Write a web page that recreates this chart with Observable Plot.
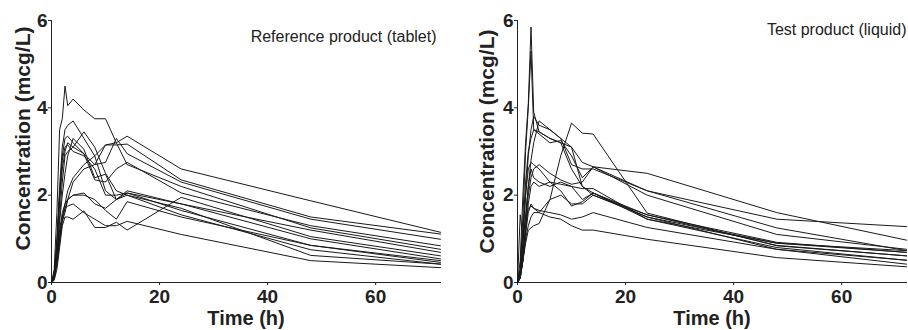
<!DOCTYPE html>
<html>
<head>
<meta charset="utf-8">
<script src="https://cdn.jsdelivr.net/npm/d3@7"></script>
<script src="https://cdn.jsdelivr.net/npm/@observablehq/plot@0.6"></script>
<style>
  html, body { margin: 0; padding: 0; background: #fff; }
  #wrap { display: flex; width: 908px; height: 330px; }
  #wrap svg { display: block; }
</style>
</head>
<body>
<div id="wrap"></div>
<script>
// Sampling times (h)
const times = [0, 0.5, 1, 1.5, 2, 2.5, 3, 4, 6, 8, 10, 12, 14, 24, 48, 72];

// Reference product (tablet) – concentration (mcg/L) per subject
const refSubjects = [
  [0, 0.3, 1.6, 3.5, 3.75, 4.5, 4.05, 4.2, 3.95, 3.75, 3.75, 3.2, 2.7, 2.2, 1.25, 0.76],
  [0, 0.2, 1.0, 2.2, 3.1, 3.5, 3.6, 3.7, 3.3, 2.9, 2.1, 1.9, 2.05, 1.65, 0.85, 0.5],
  [0, 0.1, 0.6, 1.5, 2.3, 2.9, 3.0, 3.1, 3.45, 3.1, 2.5, 2.1, 2.0, 1.55, 0.75, 0.42],
  [0, 0.1, 0.4, 0.9, 1.4, 1.6, 1.9, 2.3, 2.6, 2.7, 2.75, 3.3, 2.95, 2.3, 1.45, 0.99],
  [0, 0.1, 0.5, 1.0, 1.5, 1.8, 2.1, 2.4, 2.7, 2.9, 3.15, 3.2, 3.35, 2.6, 1.87, 1.15],
  [0, 0.2, 0.8, 1.8, 2.6, 3.0, 3.2, 3.1, 2.95, 2.7, 3.15, 3.15, 3.17, 2.35, 1.5, 1.11],
  [0, 0.1, 0.6, 1.4, 2.0, 2.5, 2.9, 3.3, 3.05, 2.4, 2.48, 1.9, 2.1, 1.8, 1.2, 0.69],
  [0, 0.05, 0.3, 0.8, 1.3, 1.5, 1.5, 1.45, 1.64, 1.26, 1.26, 1.38, 1.2, 1.95, 1.05, 0.61],
  [0, 0.1, 0.5, 1.1, 1.5, 1.7, 1.75, 1.8, 1.6, 1.45, 1.3, 1.3, 1.4, 1.1, 0.5, 0.34],
  [0, 0.1, 0.6, 1.2, 1.6, 1.8, 1.9, 2.0, 2.0, 1.9, 1.65, 1.45, 1.85, 1.5, 0.85, 0.46],
  [0, 0.2, 0.9, 2.0, 2.8, 3.1, 3.15, 3.0, 2.9, 2.6, 2.0, 2.0, 2.05, 1.8, 1.0, 0.54],
  [0, 0.1, 0.5, 1.0, 1.4, 1.7, 1.9, 2.0, 2.05, 1.8, 1.7, 1.9, 2.0, 1.7, 0.62, 0.42],
  [0, 0.15, 0.9, 2.0, 2.9, 3.3, 3.35, 3.2, 2.95, 2.35, 2.3, 2.6, 2.75, 2.05, 1.3, 0.84]
];

// Test product (liquid) – concentration (mcg/L) per subject
const testSubjects = [
  [0, 0.5, 2.0, 3.2, 4.1, 5.85, 3.9, 3.45, 3.3, 3.2, 2.6, 2.2, 2.05, 1.5, 0.9, 0.69],
  [0, 0.3, 1.5, 3.0, 4.0, 5.3, 3.5, 3.4, 3.2, 3.25, 2.9, 2.4, 2.65, 2.5, 1.6, 0.97],
  [0, 0.2, 0.9, 1.5, 2.2, 2.8, 3.2, 3.7, 3.5, 3.3, 3.1, 2.75, 2.65, 2.1, 1.45, 1.28],
  [0, 0.2, 0.5, 0.9, 1.2, 1.25, 1.3, 1.35, 1.9, 2.9, 3.65, 3.42, 3.4, 1.59, 0.84, 0.61],
  [0, 0.2, 1.0, 2.0, 2.9, 3.5, 3.8, 3.6, 3.5, 3.3, 2.7, 2.6, 2.6, 2.1, 1.25, 0.73],
  [0, 0.1, 0.6, 1.3, 2.0, 2.4, 2.6, 2.7, 2.5, 2.35, 2.25, 2.3, 2.65, 2.0, 1.1, 0.76],
  [0, 1.55, 1.0, 1.5, 2.2, 2.6, 2.4, 2.3, 2.2, 2.3, 2.2, 1.9, 2.05, 1.55, 0.92, 0.69],
  [0, 0.1, 0.5, 1.2, 1.8, 2.2, 2.3, 2.2, 2.3, 2.25, 2.2, 2.15, 2.15, 1.45, 0.9, 0.73],
  [0, 0.1, 0.5, 1.1, 1.6, 1.8, 1.7, 1.6, 1.9, 2.0, 1.8, 1.8, 2.0, 1.5, 0.76, 0.51],
  [0, 0.2, 0.7, 1.3, 1.7, 1.75, 1.7, 1.65, 1.6, 1.55, 1.45, 1.5, 1.6, 1.26, 0.76, 0.42],
  [0, 0.1, 0.5, 1.0, 1.3, 1.5, 1.6, 1.6, 1.5, 1.45, 1.3, 1.2, 1.2, 0.99, 0.57, 0.36],
  [0, 0.3, 1.2, 2.3, 3.0, 3.3, 3.5, 3.45, 3.3, 3.2, 3.1, 2.2, 2.0, 1.55, 0.85, 0.61],
  [0, 0.2, 1.0, 2.0, 2.6, 2.75, 2.7, 2.6, 2.3, 2.1, 1.75, 1.85, 2.05, 1.45, 0.8, 0.51]
];

// Text
const panelTitles = ["Reference product (tablet)", "Test product (liquid)"];
const xTicks = [0, 20, 40, 60];
const yTicks = [0, 2, 4, 6];
const xLabel = "Time (h)";
const yLabel = "Concentration (mcg/L)";

function toRows(subjects) {
  const rows = [];
  subjects.forEach((vals, id) => {
    vals.forEach((c, i) => rows.push({id, t: times[i], c}));
  });
  return rows;
}

function panel(subjects, title, opts) {
  return Plot.plot({
    width: 454,
    height: 330,
    marginLeft: opts.marginLeft,
    marginRight: opts.marginRight,
    marginTop: 20,
    marginBottom: 48,
    style: {
      fontFamily: "'Liberation Sans', Arial, sans-serif",
      fontSize: "19px",
      fontWeight: "bold",
      color: "#222",
      background: "#fff",
      overflow: "visible"
    },
    x: {domain: [0, 72], ticks: xTicks, tickFormat: d3.format("d"), tickSize: 3, tickPadding: 4, label: null, line: true},
    y: {domain: [0, 6], ticks: yTicks, tickFormat: d3.format("d"), tickSize: 3, tickPadding: 1, label: null, line: true},
    marks: [
      Plot.line(toRows(subjects), {x: "t", y: "c", z: "id", stroke: "#1a1a1a", strokeWidth: 1}),
      Plot.text([title], {
        frameAnchor: "top-right", dx: opts.titleDx, dy: opts.titleDy,
        textAnchor: "end", lineAnchor: "middle", fontSize: 16, fontWeight: "normal", fill: "#222"
      }),
      Plot.text([xLabel], {
        frameAnchor: "bottom", dy: 36.5, textAnchor: "middle", lineAnchor: "middle",
        fontSize: 20, fontWeight: "bold", fill: "#222"
      }),
      Plot.text([yLabel], {
        frameAnchor: "left", rotate: -90, dx: opts.yLabelDx, dy: opts.yLabelDy,
        textAnchor: "middle", lineAnchor: "middle",
        fontSize: 21, fontWeight: "bold", fill: "#222"
      })
    ]
  });
}

const wrap = document.getElementById("wrap");
wrap.appendChild(panel(refSubjects, panelTitles[0], {
  marginLeft: 51, marginRight: 14, titleDx: -4, titleDy: 16.5, yLabelDx: -28, yLabelDy: -13
}));
wrap.appendChild(panel(testSubjects, panelTitles[1], {
  marginLeft: 63, marginRight: 2, titleDx: 0, titleDy: 9.5, yLabelDx: -30, yLabelDy: -10
}));
</script>
</body>
</html>
